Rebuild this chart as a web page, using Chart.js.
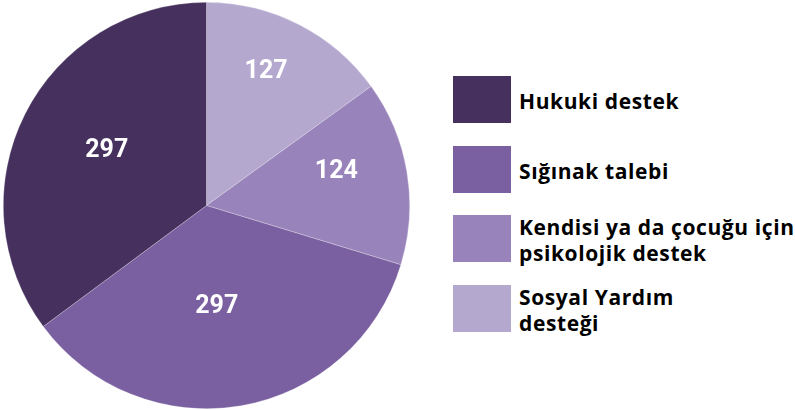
<!DOCTYPE html>
<html>
<head>
<meta charset="utf-8">
<script src="https://cdn.jsdelivr.net/npm/chart.js@4"></script>
<style>
    html, body { margin: 0; padding: 0; background: #fff; overflow: hidden; }
    #wrap { position: relative; width: 795px; height: 410px; }
    #pieBox { position: absolute; left: 0; top: 0; width: 413px; height: 410px; }
    #legend { position: absolute; left: 453px; top: 0; }
    .row { position: absolute; left: 0; height: 47px; display: flex; align-items: center; white-space: nowrap; }
    .swatch { width: 58px; height: 47px; flex: none; }
    .txt { margin-left: 8px; font-family: "Open Sans", sans-serif; font-weight: 700; font-size: 21px;
           letter-spacing: 0.6px; line-height: 26px; color: #000; padding-top: 2px; }
</style>
</head>
<body>
<div id="wrap">
    <div id="pieBox"><canvas id="pieChart"></canvas></div>
    <div id="legend"></div>
</div>
<script>
// legend order (top to bottom)
const categories = [
    ['Hukuki destek'],
    ['Sığınak talebi'],
    ['Kendisi ya da çocuğu için', 'psikolojik destek'],
    ['Sosyal Yardım', 'desteği']
];
const values = [297, 297, 124, 127];
const colors = ['#46305e', '#7a60a0', '#9883ba', '#b4a8cf'];

// the pie runs counter-clockwise from the top, so feed it reversed
const pieLabels = categories.map(c => c.join(' ')).reverse();
const pieValues = values.slice().reverse();
const pieColors = colors.slice().reverse();

// white numbers inside the slices
const sliceLabels = {
    id: 'sliceLabels',
    afterDatasetsDraw(chart, args, opts) {
        const ctx = chart.ctx;
        const meta = chart.getDatasetMeta(0);
        ctx.save();
        ctx.fillStyle = '#fff';
        ctx.font = 'bold 25px Roboto, sans-serif';
        ctx.textAlign = 'center';
        ctx.textBaseline = 'middle';
        meta.data.forEach((arc, i) => {
            const p = arc.getProps(['x', 'y', 'startAngle', 'endAngle', 'outerRadius']);
            const mid = (p.startAngle + p.endAngle) / 2 + (opts.shift[i] || 0) * Math.PI / 180;
            const r = p.outerRadius * opts.radius[i];
            ctx.fillText(chart.data.datasets[0].data[i], p.x + Math.cos(mid) * r, p.y + Math.sin(mid) * r);
        });
        ctx.restore();
    }
};

new Chart(document.getElementById('pieChart').getContext('2d'), {
    type: 'pie',
    data: {
        labels: pieLabels,
        datasets: [{
            data: pieValues,
            backgroundColor: pieColors,
            borderColor: 'rgba(255, 255, 255, 0.45)',
            borderWidth: 0.6
        }]
    },
    options: {
        responsive: true,
        maintainAspectRatio: false,
        animation: false,
        layout: { padding: { left: 3, right: 3, top: 2, bottom: 1 } },
        plugins: {
            legend: { display: false },
            tooltip: { enabled: false },
            sliceLabels: {
                radius: [0.72, 0.66, 0.5, 0.56],
                shift: [-3, -5, 4, 2]
            }
        }
    },
    plugins: [sliceLabels]
});

// html legend built from the same arrays
const legend = document.getElementById('legend');
const rowTops = [76, 146, 215, 285];
categories.forEach((lines, i) => {
    const row = document.createElement('div');
    row.className = 'row';
    row.style.top = rowTops[i] + 'px';
    const sw = document.createElement('div');
    sw.className = 'swatch';
    sw.style.background = colors[i];
    const txt = document.createElement('div');
    txt.className = 'txt';
    lines.forEach((line, j) => {
        if (j) txt.appendChild(document.createElement('br'));
        txt.appendChild(document.createTextNode(line));
    });
    row.appendChild(sw);
    row.appendChild(txt);
    legend.appendChild(row);
});
</script>
</body>
</html>
